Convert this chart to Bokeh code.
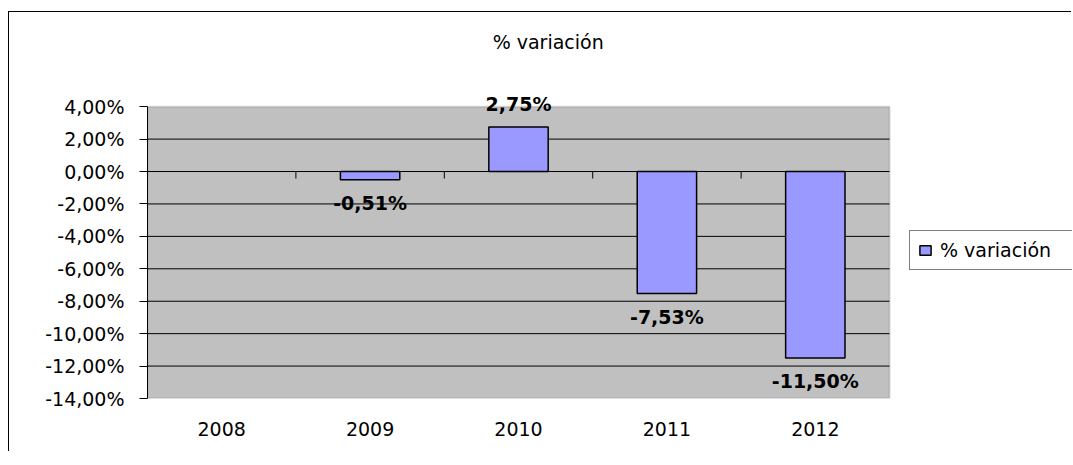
import math
from bokeh.plotting import figure
from bokeh.models import (ColumnDataSource, Range1d, FixedTicker,
                          LabelSet, Label, Legend, LegendItem, BoxAnnotation)
from bokeh.core.properties import value
from bokeh.embed import file_html
from bokeh.resources import INLINE

# ---- data -------------------------------------------------------------
years = ["2008", "2009", "2010", "2011", "2012"]
variation = [float("nan"), -0.51, 2.75, -7.53, -11.50]   # percent
y_ticks = [-14, -12, -10, -8, -6, -4, -2, 0, 2, 4]
series_name = "% variación"
chart_title = "% variación"

FONT = "DejaVu Sans"
Y_MIN, Y_MAX = min(y_ticks), max(y_ticks)
N = len(years)
centers = [i + 0.5 for i in range(N)]          # category slots 0..N


def pct(v):
    return f"{v:.2f}".replace(".", ",") + "%"


# ---- figure -----------------------------------------------------------
# The frame is larger than the grey plot area (which spans 0..N and
# Y_MIN..Y_MAX) so the title, the value labels and the legend are not clipped.
p = figure(
    x_range=Range1d(0, 6.233),
    y_range=Range1d(Y_MIN, 9.5),
    width=1063, height=440,
    output_backend="svg", toolbar_location=None,
    min_border_left=138, min_border_right=0,
    min_border_top=5, min_border_bottom=54,
)
p.title.visible = False
p.background_fill_color = "white"
p.border_fill_color = "white"
p.outline_line_color = None
p.styles = {"border-left": "1px solid black", "border-top": "1px solid black"}
p.margin = (11, 0, 0, 8)
p.xgrid.visible = False
p.ygrid.visible = False

# plot area
p.add_layout(BoxAnnotation(left=0, right=N, bottom=Y_MIN, top=Y_MAX,
                           fill_color="#C0C0C0", fill_alpha=1,
                           line_color="#808080", line_width=2, level="image"))

# horizontal grid lines across the plot area
inner = [t for t in y_ticks if Y_MIN < t < Y_MAX]
p.segment(x0=[0] * len(inner), x1=[N] * len(inner), y0=inner, y1=inner,
          line_color="black", line_width=1)

# y axis
p.yaxis.ticker = FixedTicker(ticks=y_ticks)
p.yaxis.bounds = (Y_MIN, Y_MAX)
p.yaxis.major_label_overrides = {t: pct(t) for t in y_ticks}
p.yaxis.axis_line_color = "black"
p.yaxis.major_tick_line_color = "black"
p.yaxis.major_tick_out = 8
p.yaxis.major_tick_in = 0
p.yaxis.minor_tick_line_color = None
p.yaxis.major_label_standoff = 15
p.yaxis.major_label_text_font = FONT
p.yaxis.major_label_text_font_size = "19px"
p.yaxis.major_label_text_color = "black"

# x axis: category labels only
p.xaxis.ticker = FixedTicker(ticks=centers)
p.xaxis.major_label_overrides = {c: y for c, y in zip(centers, years)}
p.xaxis.axis_line_color = None
p.xaxis.major_tick_line_color = None
p.xaxis.minor_tick_line_color = None
p.xaxis.major_tick_out = 0
p.xaxis.major_label_standoff = 23
p.xaxis.major_label_text_font = FONT
p.xaxis.major_label_text_font_size = "19px"
p.xaxis.major_label_text_color = "black"

# category boundary ticks hanging from the zero line
bounds = list(range(1, N))
p.ray(x=bounds, y=[0] * len(bounds), length=7, length_units="screen",
      angle=-math.pi / 2, line_color="black", line_width=1)

# bars
src = ColumnDataSource(dict(x=centers, top=variation))
bars = p.vbar(x="x", top="top", bottom=0, width=0.4, source=src,
              fill_color="#9999FF", line_color="black", line_width=1.5)

# value labels
lx, ly, lt, lo = [], [], [], []
for c, v in zip(centers, variation):
    if v is None or (isinstance(v, float) and math.isnan(v)):
        continue
    lx.append(c)
    ly.append(v)
    lt.append(pct(v))
    lo.append(23 if v >= 0 else -23.5)
lab_src = ColumnDataSource(dict(x=lx, y=ly, text=lt, off=lo))
p.add_layout(LabelSet(x="x", y="y", text="text", y_offset="off", source=lab_src,
                      text_align="center", text_baseline="middle",
                      text_font=value(FONT), text_font_size=value("19px"),
                      text_font_style=value("bold"), text_color="black"))

# title
p.add_layout(Label(x=2.7, y=8.0, text=chart_title,
                   text_align="center", text_baseline="middle",
                   text_font=FONT, text_font_size="19px", text_color="black"))

# legend
legend = Legend(items=[LegendItem(label=series_name, renderers=[bars])],
                location=(762, 128), orientation="vertical",
                border_line_color="black", border_line_width=1,
                background_fill_color="white", background_fill_alpha=1,
                padding=8, margin=0, spacing=0,
                glyph_width=14, glyph_height=12, label_standoff=8,
                label_height=20, label_width=150,
                label_text_font=FONT, label_text_font_size="19px",
                label_text_color="black", label_text_baseline="middle")
p.add_layout(legend)

open("out.html", "w").write(file_html(p, INLINE))
